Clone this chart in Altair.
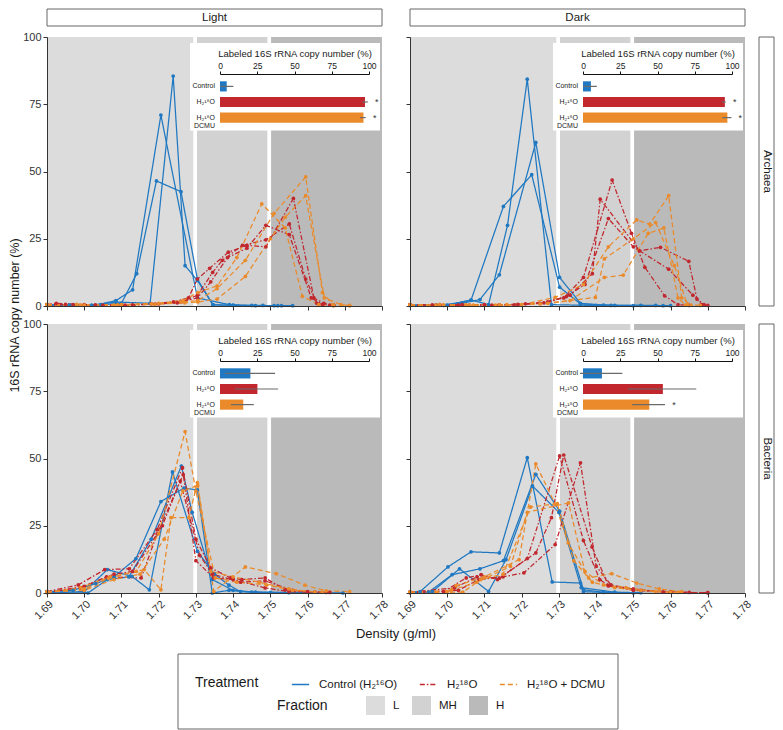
import altair as alt
import pandas as pd

FONT = "Liberation Sans"
TXT = "#1a1a1a"
AX = "#333333"

# ---------------- categories / styles ----------------
TREATMENTS = ["Control (H\u2082\u00b9\u2076O)", "H\u2082\u00b9\u2078O", "H\u2082\u00b9\u2078O + DCMU"]
INSET_LABELS = ["Control", "H\u2082\u00b9\u2078O", "H\u2082\u00b9\u2078O|DCMU"]
TRT_COLORS = ["#1f78c1", "#c1272d", "#ea8a2a"]
TRT_DASH = [[1, 0], [5, 2, 1.5, 2], [5, 3]]

FRACTIONS = ["L", "MH", "H"]
FRAC_LO = [1.690, 1.7303, 1.7502]
FRAC_HI = [1.7293, 1.7492, 1.780]
FRAC_COLORS = ["#dcdcdc", "#d2d2d2", "#bababa"]

X_TICKS = [1.69, 1.70, 1.71, 1.72, 1.73, 1.74, 1.75, 1.76, 1.77, 1.78]
Y_TICKS = [0, 25, 50, 75, 100]
INSET_TICKS = [0, 25, 50, 75, 100]

# ---------------- profiles: (density, % copy number) per replicate ----------------
LA_CTRL = [
    [(1.690, 0.4), (1.696, 0.3), (1.702, 0.3), (1.7086, 1.5), (1.7177, 1.0), (1.7239, 85.5), (1.7271, 15.0), (1.7304, 9.5), (1.7346, 0.5), (1.740, 0.2), (1.746, 0.1), (1.752, 0.1)],
    [(1.690, 0.3), (1.697, 0.4), (1.703, 0.3), (1.7085, 2.0), (1.7130, 6.0), (1.7206, 71.0), (1.7304, 3.0), (1.7390, 0.5), (1.745, 0.2), (1.751, 0.1), (1.756, 0.1)],
    [(1.690, 0.5), (1.698, 0.3), (1.7045, 0.5), (1.7100, 1.0), (1.7141, 12.0), (1.7194, 46.5), (1.7260, 42.5), (1.7304, 10.0), (1.7346, 0.4), (1.740, 0.3), (1.748, 0.2), (1.753, 0.1)],
]
LA_H2O = [
    [(1.690, 0.5), (1.6925, 1.0), (1.700, 0.5), (1.710, 0.3), (1.718, 0.8), (1.724, 1.5), (1.728, 3.0), (1.7304, 10.0), (1.7337, 14.0), (1.7387, 20.0), (1.7437, 22.5), (1.7488, 22.0), (1.7562, 40.0), (1.7617, 3.0), (1.7644, 1.0), (1.767, 0.3)],
    [(1.690, 0.3), (1.697, 0.5), (1.705, 0.3), (1.713, 0.4), (1.720, 0.8), (1.726, 1.5), (1.7304, 4.0), (1.7345, 12.5), (1.7371, 17.0), (1.7425, 22.5), (1.7488, 24.6), (1.7551, 30.5), (1.7595, 10.0), (1.7625, 1.0), (1.766, 0.3)],
    [(1.690, 0.4), (1.695, 0.6), (1.703, 0.4), (1.711, 0.3), (1.719, 0.7), (1.725, 1.2), (1.7304, 3.0), (1.7340, 9.0), (1.7385, 18.0), (1.7437, 21.5), (1.7488, 30.0), (1.7551, 26.5), (1.7610, 3.0), (1.7640, 0.5), (1.767, 0.2)],
]
LA_DCMU = [
    [(1.690, 0.5), (1.700, 0.3), (1.710, 0.5), (1.720, 1.0), (1.7265, 2.0), (1.7305, 5.0), (1.7357, 7.5), (1.7410, 18.0), (1.7477, 38.0), (1.7540, 29.0), (1.7586, 3.6), (1.7630, 0.5), (1.767, 0.1)],
    [(1.690, 0.3), (1.698, 0.6), (1.708, 0.3), (1.718, 0.8), (1.726, 1.5), (1.7305, 2.0), (1.7357, 6.5), (1.7433, 17.0), (1.7510, 34.4), (1.7595, 48.0), (1.7640, 5.0), (1.7668, 0.5), (1.7713, 0.2)],
    [(1.690, 0.4), (1.699, 0.3), (1.709, 0.4), (1.719, 0.6), (1.727, 1.2), (1.7305, 1.5), (1.7357, 2.6), (1.7433, 11.0), (1.7500, 25.0), (1.7540, 33.0), (1.7595, 41.0), (1.7645, 3.0), (1.7690, 0.5), (1.7713, 0.1)],
]
DA_CTRL = [
    [(1.690, 0.3), (1.700, 0.3), (1.7064, 2.2), (1.7111, 0.5), (1.7162, 30.0), (1.7215, 84.3), (1.7280, 0.5), (1.7358, 0.3), (1.740, 0.2), (1.745, 0.2), (1.750, 0.1)],
    [(1.690, 0.2), (1.697, 0.3), (1.704, 1.0), (1.7088, 2.4), (1.7140, 11.6), (1.7238, 60.8), (1.7302, 10.6), (1.7358, 1.0), (1.742, 0.3), (1.752, 0.2), (1.758, 0.1)],
    [(1.690, 0.3), (1.699, 0.2), (1.7064, 2.2), (1.7151, 37.0), (1.7227, 48.8), (1.7302, 7.0), (1.7358, 0.8), (1.744, 0.2), (1.756, 0.2), (1.760, 0.1)],
]
DA_H2O = [
    [(1.690, 0.4), (1.697, 0.3), (1.704, 0.5), (1.712, 0.3), (1.719, 0.6), (1.725, 1.0), (1.7313, 3.0), (1.7366, 10.6), (1.7443, 46.8), (1.7495, 27.0), (1.7531, 14.4), (1.7584, 3.8), (1.762, 0.5), (1.765, 0.2)],
    [(1.690, 0.3), (1.698, 0.5), (1.706, 0.3), (1.714, 0.4), (1.721, 0.8), (1.727, 1.5), (1.733, 4.0), (1.739, 12.0), (1.7411, 39.7), (1.7517, 20.5), (1.7573, 21.8), (1.7649, 16.6), (1.7671, 2.6), (1.769, 0.5)],
    [(1.690, 0.5), (1.696, 0.4), (1.703, 0.3), (1.710, 0.5), (1.718, 0.4), (1.726, 1.2), (1.732, 3.5), (1.737, 8.0), (1.7433, 32.5), (1.7500, 22.0), (1.7595, 13.7), (1.7660, 4.0), (1.7684, 0.5), (1.770, 0.2)],
]
DA_DCMU = [
    [(1.690, 0.3), (1.698, 0.5), (1.706, 0.3), (1.714, 0.4), (1.720, 0.5), (1.729, 3.2), (1.7366, 8.0), (1.7433, 22.0), (1.7509, 32.0), (1.7544, 30.4), (1.7595, 41.0), (1.7630, 3.0), (1.7655, 0.3)],
    [(1.690, 0.4), (1.697, 0.3), (1.705, 0.5), (1.713, 0.3), (1.725, 0.8), (1.733, 2.0), (1.7422, 10.6), (1.7473, 11.5), (1.7540, 27.0), (1.7582, 29.0), (1.7620, 3.0), (1.7640, 0.3)],
    [(1.690, 0.3), (1.699, 0.4), (1.707, 0.3), (1.716, 0.5), (1.727, 1.0), (1.7398, 3.2), (1.7422, 17.5), (1.7500, 25.0), (1.7560, 31.0), (1.7610, 15.0), (1.7645, 0.5), (1.768, 0.2)],
]
LB_CTRL = [
    [(1.690, 0.5), (1.697, 1.0), (1.7031, 3.5), (1.708, 6.0), (1.7139, 12.8), (1.7206, 34.0), (1.7268, 39.0), (1.7304, 38.3), (1.7344, 0.0), (1.7389, 1.0), (1.745, 0.3), (1.7695, 0.0)],
    [(1.690, 0.3), (1.700, 0.5), (1.7062, 8.7), (1.7128, 6.2), (1.7175, 1.2), (1.7237, 45.0), (1.7304, 15.5), (1.735, 7.0), (1.7389, 2.9), (1.742, 0.5), (1.750, 0.2)],
    [(1.690, 0.2), (1.701, 0.0), (1.7062, 5.0), (1.712, 6.0), (1.718, 20.0), (1.7261, 47.2), (1.729, 30.0), (1.7344, 5.0), (1.740, 1.0), (1.746, 0.3), (1.755, 0.1)],
]
LB_H2O = [
    [(1.690, 0.5), (1.6984, 3.0), (1.7055, 8.7), (1.7121, 9.0), (1.7196, 23.6), (1.7264, 46.6), (1.730, 20.0), (1.734, 9.3), (1.7393, 5.6), (1.7424, 5.0), (1.7486, 5.6), (1.754, 1.2), (1.760, 0.5), (1.766, 0.2)],
    [(1.690, 0.3), (1.699, 2.0), (1.706, 6.0), (1.7153, 5.6), (1.7196, 22.0), (1.7266, 44.0), (1.730, 12.0), (1.7348, 5.6), (1.740, 5.0), (1.7486, 1.9), (1.755, 0.5), (1.762, 0.3)],
    [(1.690, 0.2), (1.700, 2.5), (1.708, 7.0), (1.713, 8.0), (1.721, 25.0), (1.7258, 41.6), (1.731, 14.0), (1.7345, 7.0), (1.742, 4.0), (1.7486, 4.5), (1.756, 1.0), (1.765, 0.2)],
]
LB_DCMU = [
    [(1.690, 0.3), (1.700, 1.5), (1.7065, 5.5), (1.7161, 8.7), (1.7206, 1.2), (1.7233, 28.0), (1.7281, 28.0), (1.7304, 41.0), (1.7348, 0.6), (1.7433, 9.7), (1.7516, 7.2), (1.7593, 2.9), (1.765, 0.8), (1.7713, 0.5)],
    [(1.690, 0.2), (1.699, 2.0), (1.707, 6.0), (1.714, 8.0), (1.720, 22.0), (1.7271, 60.0), (1.730, 37.9), (1.7352, 5.6), (1.741, 4.0), (1.749, 3.0), (1.756, 1.0), (1.764, 0.3)],
    [(1.690, 0.4), (1.700, 1.0), (1.708, 5.0), (1.715, 7.0), (1.7215, 20.0), (1.7265, 38.0), (1.7305, 40.0), (1.734, 8.0), (1.740, 6.0), (1.747, 4.0), (1.755, 1.5), (1.762, 0.3)],
]
DB_CTRL = [
    [(1.690, 0.3), (1.6927, 0.5), (1.7002, 9.7), (1.7064, 15.3), (1.7140, 14.9), (1.7215, 50.3), (1.7282, 4.1), (1.7358, 3.7), (1.7366, 0.5), (1.742, 0.2), (1.750, 0.1)],
    [(1.690, 0.2), (1.695, 0.3), (1.7013, 6.8), (1.7088, 9.0), (1.7151, 12.0), (1.7238, 44.1), (1.7302, 30.4), (1.7366, 1.2), (1.742, 0.3), (1.750, 0.1)],
    [(1.690, 0.2), (1.696, 0.5), (1.7033, 9.0), (1.7111, 0.6), (1.7158, 12.4), (1.7229, 39.8), (1.730, 30.0), (1.736, 2.0), (1.745, 0.3), (1.752, 0.1)],
]
DB_H2O = [
    [(1.690, 0.2), (1.699, 0.5), (1.7051, 5.6), (1.7091, 6.8), (1.7135, 5.0), (1.7215, 12.8), (1.7302, 51.0), (1.7366, 19.5), (1.741, 5.0), (1.7433, 2.7), (1.750, 1.0), (1.760, 0.3), (1.770, 0.1)],
    [(1.690, 0.3), (1.702, 1.9), (1.708, 6.0), (1.714, 5.5), (1.7238, 14.9), (1.728, 28.0), (1.7313, 51.3), (1.7389, 17.1), (1.7433, 2.7), (1.750, 1.5), (1.758, 0.4), (1.765, 0.2)],
    [(1.690, 0.2), (1.703, 1.0), (1.7085, 5.0), (1.715, 6.0), (1.7206, 7.5), (1.729, 18.0), (1.7358, 48.4), (1.740, 10.0), (1.744, 3.0), (1.752, 1.0), (1.760, 0.3), (1.770, 0.1)],
]
DB_DCMU = [
    [(1.690, 0.3), (1.700, 0.5), (1.7024, 2.7), (1.710, 6.0), (1.7193, 12.4), (1.7238, 48.0), (1.729, 33.0), (1.7325, 18.6), (1.738, 5.6), (1.7442, 7.2), (1.7509, 3.7), (1.757, 1.5), (1.763, 0.5)],
    [(1.690, 0.2), (1.7042, 0.3), (1.709, 5.0), (1.715, 7.0), (1.7224, 32.0), (1.7296, 33.2), (1.734, 12.0), (1.739, 4.0), (1.745, 2.0), (1.752, 1.0), (1.760, 0.3)],
    [(1.690, 0.2), (1.701, 1.0), (1.708, 4.0), (1.717, 9.9), (1.7215, 30.0), (1.7326, 33.5), (1.737, 8.0), (1.742, 3.0), (1.748, 2.0), (1.756, 0.5), (1.762, 0.2)],
]

# inset: labeled copy number (%) -> (mean, low, high, significance)
INSET_LA = [(4.5, 0.0, 9.0, ""), (97.3, 95.5, 99.2, "*"), (96.3, 94.0, 97.8, "*")]
INSET_DA = [(5.3, 0.0, 9.3, ""), (95.2, 93.2, 95.8, "*"), (96.9, 93.5, 99.6, "*")]
INSET_LB = [(20.4, 3.3, 37.0, ""), (25.1, 10.0, 39.0, ""), (15.6, 7.3, 22.7, "")]
INSET_DB = [(12.7, -2.0, 26.4, ""), (53.6, 30.0, 76.0, ""), (44.5, 33.0, 55.0, "*")]

PANEL_LINES = {
    "LA": [LA_CTRL, LA_H2O, LA_DCMU],
    "DA": [DA_CTRL, DA_H2O, DA_DCMU],
    "LB": [LB_CTRL, LB_H2O, LB_DCMU],
    "DB": [DB_CTRL, DB_H2O, DB_DCMU],
}
PANEL_INSET = {"LA": INSET_LA, "DA": INSET_DA, "LB": INSET_LB, "DB": INSET_DB}

# ---------------- tables ----------------
line_rows = []
for key, groups in PANEL_LINES.items():
    for t, reps in zip(TREATMENTS, groups):
        for r, pts in enumerate(reps):
            for d, v in pts:
                line_rows.append({"panel": key, "trt": t, "rep": f"{t}-{r}", "d": d, "v": v})
lines_df = pd.DataFrame(line_rows)

inset_rows = []
for key, vals in PANEL_INSET.items():
    for t, lab, (m, lo, hi, s) in zip(TREATMENTS, INSET_LABELS, vals):
        inset_rows.append({"panel": key, "trt": t, "lab": lab, "mean": m, "lo": lo, "hi": hi, "star": s})
inset_df = pd.DataFrame(inset_rows)

frac_df = pd.DataFrame({"frac": FRACTIONS, "lo": FRAC_LO, "hi": FRAC_HI})
one_df = pd.DataFrame({"k": [0]})

W, H = 335, 269
RS = 15


def cscale():
    return alt.Scale(domain=TREATMENTS, range=TRT_COLORS)


def dscale():
    return alt.Scale(domain=TREATMENTS, range=TRT_DASH)


def fscale():
    return alt.Scale(domain=FRACTIONS, range=FRAC_COLORS)


def panel(key, col, row, col_label, row_label):
    is_bottom = row == 1
    is_left = col == 0

    def xs():
        return alt.Scale(domain=[1.69, 1.78], nice=False, zero=False)

    def ys():
        return alt.Scale(domain=[0, 100], nice=False)

    def ix():
        return alt.Scale(domain=[0, 100], range=[173, 322], nice=False)

    def iy():
        return alt.Scale(domain=TREATMENTS, range=[41.5, 88.5], paddingInner=0.35, paddingOuter=0.18)

    xaxis = alt.Axis(orient="bottom", values=X_TICKS, format=".2f", labels=is_bottom, labelAngle=315,
                     labelFontSize=11, labelColor=AX, labelPadding=1, tickSize=4,
                     tickColor=AX, domainColor=AX, grid=False, title=None,
                     labelOverlap=False, labelFlush=False, zindex=1)
    ykw = dict(orient="left", values=Y_TICKS, labels=is_left, labelFontSize=11, labelColor=AX,
               labelPadding=2, tickSize=4, tickColor=AX, domainColor=AX, grid=False,
               labelOverlap=False, labelFlush=False, zindex=1)
    if key == "LA":
        yaxis = alt.Axis(title="16S rRNA copy number (%)", titleX=-33, titleY=H + 9,
                         titleAngle=270, titleAlign="center", titleBaseline="middle",
                         titleFontSize=12.5, titleFontWeight="normal", titleColor=TXT, **ykw)
    else:
        yaxis = alt.Axis(title=None, **ykw)

    ldf = lines_df[lines_df["panel"] == key]
    idf = inset_df[inset_df["panel"] == key]

    layers = []
    # fraction shading
    layers.append(alt.Chart(frac_df).mark_rect().encode(
        x=alt.X("lo:Q", scale=xs(), axis=None),
        x2="hi:Q",
        y=alt.YDatum(0, scale=ys(), axis=None),
        y2=alt.Y2Datum(100),
        fill=alt.Fill("frac:N", scale=fscale(), legend=None),
    ))
    # profiles
    for i, t in enumerate(TREATMENTS):
        layers.append(alt.Chart(ldf[ldf["trt"] == t]).mark_line(strokeWidth=1.25).encode(
            x=alt.X("d:Q", scale=xs(), axis=xaxis if i == 0 else None),
            y=alt.Y("v:Q", scale=ys(), axis=yaxis if i == 0 else None),
            color=alt.Color("trt:N", scale=cscale(), legend=None),
            strokeDash=alt.StrokeDash("trt:N", scale=dscale(), legend=None),
            detail="rep:N",
        ))
    layers.append(alt.Chart(ldf).mark_circle(size=14, opacity=1).encode(
        x=alt.X("d:Q", scale=xs(), axis=None),
        y=alt.Y("v:Q", scale=ys(), axis=None),
        color=alt.Color("trt:N", scale=cscale(), legend=None),
    ))

    # inset
    ixaxis = alt.Axis(orient="top", offset=-37, values=INSET_TICKS, tickSize=3,
                      labelPadding=0.5, labelFontSize=8.5, labelColor=TXT,
                      title="Labeled 16S rRNA copy number (%)", titleFontSize=9.5,
                      titleFontWeight="normal", titleColor=TXT, titlePadding=3,
                      domainColor="#111111", tickColor="#111111", grid=False,
                      labelFlush=False, labelOverlap=False, zindex=1)
    layers.append(alt.Chart(one_df).mark_rect(fill="white").encode(
        x=alt.value(143), x2=alt.value(333), y=alt.value(6), y2=alt.value(93.5)))
    layers.append(alt.Chart(idf).mark_bar().encode(
        x=alt.X("mean:Q", scale=ix(), axis=ixaxis),
        y=alt.Y("trt:N", scale=iy(), axis=None, sort=TREATMENTS),
        color=alt.Color("trt:N", scale=cscale(), legend=None),
    ))
    layers.append(alt.Chart(idf).mark_rule(color="#6b6b6b", strokeWidth=1.2).encode(
        x=alt.X("lo:Q", scale=ix(), axis=None),
        x2="hi:Q",
        y=alt.Y("trt:N", scale=iy(), axis=None, sort=TREATMENTS),
    ))
    layers.append(alt.Chart(idf).transform_filter("datum.star != ''").transform_calculate(
        sx="datum.hi + 6").mark_text(fontSize=9, color=AX, baseline="middle").encode(
        x=alt.X("sx:Q", scale=ix(), axis=None),
        y=alt.Y("trt:N", scale=iy(), axis=None, sort=TREATMENTS),
        text="star:N",
    ))
    layers.append(alt.Chart(idf).mark_text(fontSize=7, color=TXT, align="right", baseline="middle",
                                           lineBreak="|", lineHeight=8).encode(
        x=alt.value(168),
        y=alt.Y("trt:N", scale=iy(), axis=None, sort=TREATMENTS),
        text="lab:N",
    ))

    # facet strips
    if col_label:
        layers.append(alt.Chart(one_df).mark_rect(fill="white", stroke="#666666", strokeWidth=1).encode(
            x=alt.value(0), x2=alt.value(W), y=alt.value(-28), y2=alt.value(-11)))
        layers.append(alt.Chart(one_df).mark_text(text=col_label, fontSize=11.5, color=TXT,
                                                  baseline="middle").encode(
            x=alt.value(W / 2), y=alt.value(-19.5)))
    if row_label:
        layers.append(alt.Chart(one_df).mark_rect(fill="white", stroke="#666666", strokeWidth=1).encode(
            x=alt.value(W + 14), x2=alt.value(W + 14 + RS), y=alt.value(0), y2=alt.value(H)))
        layers.append(alt.Chart(one_df).mark_text(text=row_label, fontSize=11.5, color=TXT, angle=90,
                                                  baseline="middle").encode(
            x=alt.value(W + 14 + RS / 2), y=alt.value(H / 2)))
    return alt.layer(*layers).resolve_scale(x="independent", y="independent").properties(width=W, height=H)


LA = panel("LA", 0, 0, "Light", None)
DA = panel("DA", 1, 0, "Dark", "Archaea")
LB = panel("LB", 0, 1, None, None)
DB = panel("DB", 1, 1, None, "Bacteria")

# ---------------- legend panel ----------------
leg_common = dict(orient="none", direction="horizontal", titleOrient="left",
                  titleFontSize=14, titleFontWeight="normal", titleColor=TXT,
                  labelFontSize=11.5, labelColor=TXT, padding=0)
treat_leg = alt.Legend(title="Treatment", legendX=148, legendY=64, symbolType="stroke",
                       symbolSize=300, symbolStrokeWidth=1.5, titlePadding=32,
                       labelOffset=9, columnPadding=18, **leg_common)
frac_leg = alt.Legend(title="Fraction", legendX=230, legendY=85, symbolType="square",
                      symbolSize=361, symbolStrokeWidth=0, titlePadding=38,
                      labelOffset=8, columnPadding=12, **leg_common)

leg_line_df = pd.DataFrame({"trt": TREATMENTS, "z": [0, 0, 0]})
leg_frac_df = pd.DataFrame({"frac": FRACTIONS, "z": [0, 0, 0]})

leg_box = alt.Chart(one_df).mark_rect(fill="white", stroke="#666666", strokeWidth=1).encode(
    x=alt.value(131), x2=alt.value(571), y=alt.value(43), y2=alt.value(118))
x_title = alt.Chart(one_df).mark_text(text="Density (g/ml)", fontSize=13, color=TXT,
                                      baseline="middle").encode(x=alt.value(349), y=alt.value(23))
leg_lines = alt.Chart(leg_line_df).mark_line().encode(
    x=alt.X("z:Q", axis=None), y=alt.Y("z:Q", axis=None),
    color=alt.Color("trt:N", scale=cscale(), legend=treat_leg),
    strokeDash=alt.StrokeDash("trt:N", scale=dscale(), legend=treat_leg),
)
leg_frac = alt.Chart(leg_frac_df).mark_rect().encode(
    x=alt.X("z:Q", axis=None), x2="z:Q", y=alt.value(0), y2=alt.value(0),
    fill=alt.Fill("frac:N", scale=fscale(), legend=frac_leg),
)
LEG = alt.layer(leg_box, x_title, leg_lines, leg_frac).properties(width=W, height=118)

chart = alt.concat(
    LA, DA, LB, DB, LEG, columns=2,
    spacing=alt.RowColnumber(row=18, column=28), bounds="flush", align="each",
).resolve_scale(
    color="independent", strokeDash="independent", fill="independent"
).resolve_legend(
    color="independent", strokeDash="independent", fill="independent"
).properties(padding=0).configure(font=FONT).configure_view(stroke=None).configure_axis(
    labelFont=FONT, titleFont=FONT
).configure_legend(labelFont=FONT, titleFont=FONT).configure_text(font=FONT)

chart.save("out.html", embed_options={"renderer": "svg", "actions": False})
